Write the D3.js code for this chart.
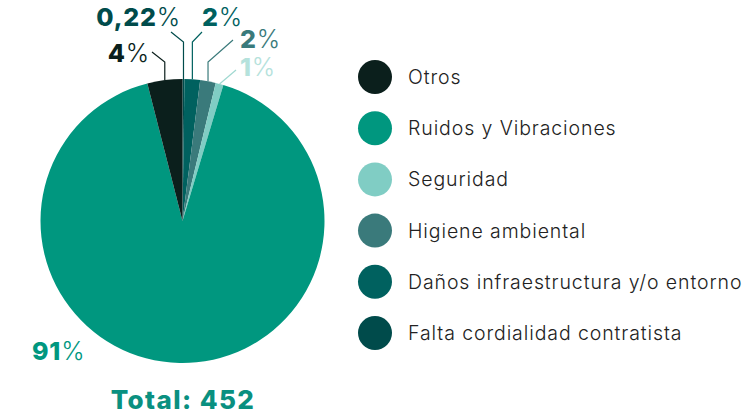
<!DOCTYPE html>
<html>
<head>
<meta charset="utf-8">
<title>Pie chart</title>
<script src="https://d3js.org/d3.v7.min.js"></script>
<style>
  body { margin: 0; background: #fff; }
  svg text { font-family: Inter, "Noto Sans", sans-serif; }
</style>
</head>
<body>
<svg id="chart" width="745" height="417"></svg>
<script>
// slices, clockwise from 12 o'clock
var categories = ["Falta cordialidad contratista", "Daños infraestructura y/o entorno", "Higiene ambiental", "Seguridad", "Ruidos y Vibraciones", "Otros"];
var counts = [1, 8, 8, 4, 413, 18];
var pctLabels = ["0,22", "2", "2", "1", "91", "4"];
var colors = ["#004b4b", "#00615f", "#3a7a7b", "#80cdc4", "#00977f", "#0b1f1c"];
var legendOrder = ["Otros", "Ruidos y Vibraciones", "Seguridad", "Higiene ambiental", "Daños infraestructura y/o entorno", "Falta cordialidad contratista"];
var total = 452;

var svg = d3.select("#chart");
var cx = 182.5, cy = 221, r = 142;

var color = d3.scaleOrdinal().domain(categories).range(colors);

var pie = d3.pie().sort(null).value(function (d) { return d.v; });
var arcs = pie(categories.map(function (c, i) { return { name: c, v: counts[i], pct: pctLabels[i] }; }));
var arc = d3.arc().innerRadius(0).outerRadius(r);

var g = svg.append("g").attr("transform", "translate(" + cx + "," + cy + ")");

g.selectAll("path").data(arcs).enter().append("path")
    .attr("d", arc)
    .attr("fill", function (d) { return color(d.data.name); });

// label layout (absolute page coords)
var labelPos = {
    "Falta cordialidad contratista": { elbow: 42, end: [171, 32], tx: 181, ty: 26, anchor: "end", fill: "#004b4b" },
    "Daños infraestructura y/o entorno": { elbow: 42, end: [202, 32], tx: 202, ty: 26, anchor: "start", fill: "#00615f" },
    "Higiene ambiental": { elbow: 62, end: [233, 40], tx: 240, ty: 48, anchor: "start", fill: "#3a7a7b" },
    "Seguridad": { elbow: null, end: [236, 70], tx: 240, ty: 76, anchor: "start", fill: "#b5e2dc" },
    "Otros": { elbow: 62, end: [152, 52], tx: 150, ty: 62, anchor: "end", fill: "#0b1f1c" },
    "Ruidos y Vibraciones": { elbow: null, end: null, tx: 32, ty: 360, anchor: "start", fill: "#00977f" }
};

arcs.forEach(function (d) {
    var p = labelPos[d.data.name];
    if (p.end) {
        var a = (d.startAngle + d.endAngle) / 2;
        var x0 = cx + r * Math.sin(a), y0 = cy - r * Math.cos(a);
        var pts = [[x0, y0]];
        if (p.elbow != null) pts.push([x0, p.elbow]);
        pts.push(p.end);
        svg.append("path")
            .attr("d", d3.line()(pts))
            .attr("fill", "none")
            .attr("stroke", p.fill === "#b5e2dc" ? "#9fd8d0" : color(d.data.name))
            .attr("stroke-width", 1.2);
    }
    var t = svg.append("text")
        .attr("x", p.tx).attr("y", p.ty)
        .attr("text-anchor", p.anchor)
        .attr("fill", p.fill)
        .style("font-size", "25px")
        .style("letter-spacing", "0.8px");
    t.append("tspan").style("font-weight", 800).text(d.data.pct);
    t.append("tspan").style("font-weight", 300).text("%");
});

svg.append("text")
    .attr("x", 183).attr("y", 409)
    .attr("text-anchor", "middle")
    .attr("fill", "#0a9080")
    .style("font-size", "26px")
    .style("font-weight", 800)
    .style("letter-spacing", "1.4px")
    .text("Total: " + total);

// legend
var ly = d3.scalePoint().domain(legendOrder).range([77, 333]);
var leg = svg.selectAll("g.leg").data(legendOrder).enter().append("g")
    .attr("class", "leg")
    .attr("transform", function (d) { return "translate(375," + ly(d) + ")"; });
leg.append("circle").attr("r", 17).attr("fill", function (d) { return color(d); });
leg.append("text")
    .attr("x", 33).attr("y", 7)
    .attr("fill", "#222")
    .style("font-size", "19.5px")
    .style("font-weight", 300)
    .style("letter-spacing", "0.9px")
    .text(function (d) { return d; });
</script>
</body>
</html>
